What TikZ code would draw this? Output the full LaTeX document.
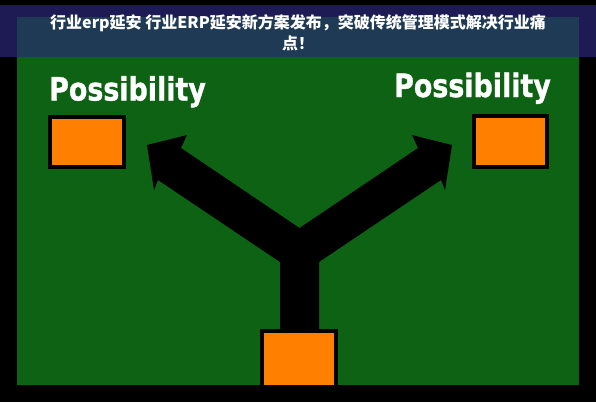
\documentclass[tikz,border=0pt]{standalone}
\usepackage{fontspec}
\newfontfamily\cjk{Noto Sans CJK SC}
\newfontfamily\labelfont{DejaVu Sans}[BoldFeatures={FakeBold=1.2}]
\definecolor{bgreen}{RGB}{14,98,20}
\definecolor{bnavy}{RGB}{30,26,84}
\definecolor{bslate}{RGB}{31,58,84}
\definecolor{borange}{RGB}{255,128,0}
\tikzset{
  obox/.style={draw=black, line width=4pt, fill=borange, minimum width=#1, inner sep=0pt},
  possib/.style={text=white, inner sep=0pt, anchor=base west, font=\labelfont\bfseries\fontsize{32}{36}\selectfont},
  titletext/.style={text=white, align=center, inner sep=0pt, font=\cjk\bfseries\fontsize{16}{20.5}\selectfont},
  yarrow/.style={fill=black}
}
\begin{document}
\begin{tikzpicture}[x=1pt,y=-1pt]
\useasboundingbox (0,0) rectangle (596,402);
\fill[black] (0,0) rectangle (596,402);
\fill[bgreen] (17,17) rectangle (579,385);
% banner
\fill[bnavy] (0,5) rectangle (596,57);
\fill[bslate] (17,17) rectangle (579,57);
% Y-shaped double arrow
\fill[yarrow] (147,145) -- (187,135) -- (181,148) -- (299.5,228) -- (418,148) -- (412,135)
  -- (452,145) -- (445,190) -- (441,180) -- (319,262) -- (319,332) -- (280,332)
  -- (280,262) -- (158,180) -- (154,190) -- cycle;
% boxes
\node[obox=74pt, minimum height=50pt] (boxL) at (87,142) {};
\node[obox=73pt, minimum height=51pt] (boxR) at (510.5,141.5) {};
\node[obox=74pt, minimum height=56pt] (boxB) at (299,359) {};
\fill[black] (0,385) rectangle (596,402);
% labels
\node[possib] (labL) at (49,100.5) {\scalebox{0.84}[1]{Possibility}};
\node[possib] (labR) at (394,97) {\scalebox{0.84}[1]{Possibility}};
% title
\node[titletext] (title) at (298,32.5) {行业erp延安 行业ERP延安新方案发布，突破传统管理模式解决行业痛\\点！};
\end{tikzpicture}
\end{document}
